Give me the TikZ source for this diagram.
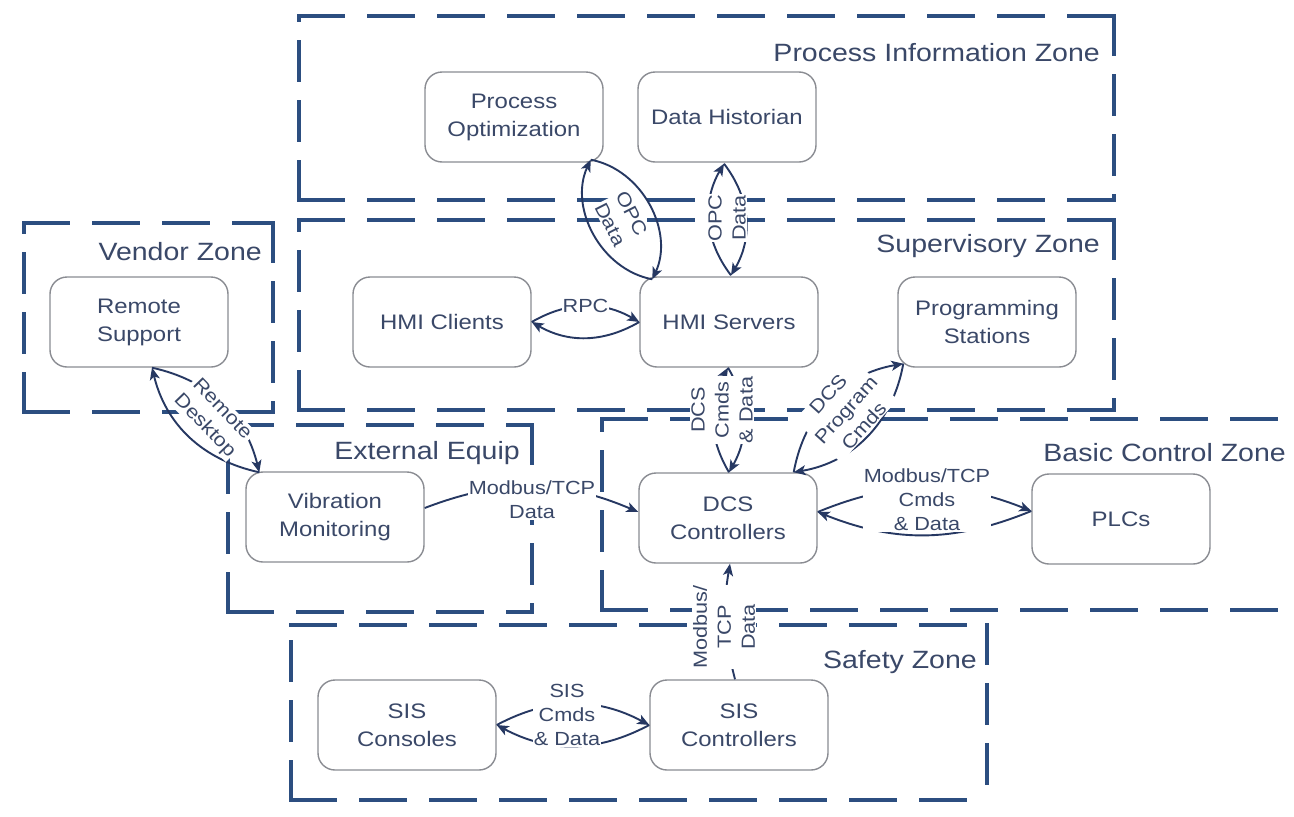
\documentclass[tikz,border=0pt]{standalone}
\usepackage{fontspec}
\setmainfont[FakeStretch=1.14]{Liberation Sans}
\usetikzlibrary{arrows.meta,calc}

\definecolor{zoneblue}{RGB}{44,78,128}
\definecolor{linknavy}{RGB}{38,56,98}
\definecolor{textblue}{RGB}{58,72,104}
\definecolor{boxgray}{RGB}{138,140,146}

% one dashed zone outline, drawn side by side
\newcommand{\zonerect}[4]{%
  \draw[zoneh] (#1,#2) -- (#3,#2);
  \draw[zoneh] (#1,#4) -- (#3,#4);
  \draw[zonev] (#1,#4) -- (#1,#2);
  \draw[zonev] (#3,#2) -- (#3,#4);}

\begin{document}
\begin{tikzpicture}[x=1pt,y=-1pt,
  zoneh/.style={draw=zoneblue,line width=4.2pt,line cap=rect,dash pattern=on 44pt off 26pt},
  zonev/.style={draw=zoneblue,line width=4.6pt,line cap=rect,dash pattern=on 38pt off 22pt},
  zonelabel/.style={anchor=east,text=textblue,font=\fontsize{25}{28}\selectfont,inner sep=0pt},
  device/.style={draw=boxgray,line width=1.4pt,rounded corners=17pt,minimum width=178pt,
    minimum height=90pt,align=center,text=textblue,fill=white,
    font=\fontsize{21}{28}\selectfont},
  link/.style={draw=linknavy,line width=1.9pt,-{Stealth[length=12pt,width=10pt,inset=3pt]}},
  tag/.style={fill=white,text=textblue,align=center,inner sep=0.8pt,
    font=\fontsize{19}{24}\selectfont},
]
\useasboundingbox (0,0) rectangle (1294,817);
\fill[white] (0,0) rectangle (1294,817);

% security zones
\zonerect{299}{16}{1114}{200}
\zonerect{299}{220}{1114}{410}
\zonerect{24}{223}{273}{412}
\zonerect{228}{425}{532}{612}
\draw[zoneh] (602,419) -- (1294,419);
\draw[zoneh] (602,610) -- (1294,610);
\draw[zonev] (602,610) -- (602,419);
\zonerect{291}{625}{987}{800}

\node[zonelabel] (lblPI)  at (1100,53)  {Process Information Zone};
\node[zonelabel] (lblSup) at (1100,246) {Supervisory Zone};
\node[zonelabel] (lblVen) at (262,252)  {Vendor Zone};
\node[zonelabel] (lblExt) at (520,453)  {External Equip};
\node[zonelabel] (lblBas) at (1286,453) {Basic Control Zone};
\node[zonelabel] (lblSaf) at (977,662)  {Safety Zone};

% systems
\node[device] (popt) at (514,117) {Process\\Optimization};
\node[device] (hist) at (727,117) {Data Historian};
\node[device] (hmic) at (442,322) {HMI Clients};
\node[device] (hmis) at (729,322) {HMI Servers};
\node[device] (prog) at (987,322) {Programming\\Stations};
\node[device] (rsup) at (139,322) {Remote\\Support};
\node[device] (vibr) at (335,517) {Vibration\\Monitoring};
\node[device] (dcs)  at (728,518) {DCS\\Controllers};
\node[device] (plc)  at (1121,519) {PLCs};
\node[device] (sisk) at (407,725) {SIS\\Consoles};
\node[device] (sisc) at (739,725) {SIS\\Controllers};

% OPC between optimization and HMI servers
\draw[link] ($(hmis.north west)+(13,3)$) to[bend left=52] ($(popt.south east)+(-13,-3)$);
\draw[link] ($(popt.south east)+(-13,-3)$) to[bend left=52] ($(hmis.north west)+(13,3)$);
% OPC between historian and HMI servers
\draw[link] ($(hmis.north)+(2,-1)$) to[bend left=34] ($(hist.south)+(-3,1)$);
\draw[link] ($(hist.south)+(-3,1)$) to[bend left=34] ($(hmis.north)+(2,-1)$);
% RPC
\draw[link] (hmic.east) to[bend left=30] node[tag] (tRPC) {RPC} (hmis.west);
\draw[link] (hmis.west) to[bend left=30] (hmic.east);
% HMI servers and DCS
\draw[link] ($(dcs.north)+(1,0)$) to[bend left=30] ($(hmis.south)+(-1,0)$);
\draw[link] ($(hmis.south)+(-1,0)$) to[bend left=30] ($(dcs.north)+(1,0)$);
% programming stations and DCS
\draw[link] ($(dcs.north east)+(-24,0)$) to[bend left=35] ($(prog.south west)+(6,-4)$);
\draw[link] ($(prog.south west)+(6,-4)$) to[bend left=35] ($(dcs.north east)+(-24,0)$);
% DCS and PLCs
\draw[link] ($(dcs.east)+(0,-6)$) to[bend left=22] ($(plc.west)+(0,-8)$);
\draw[link] ($(plc.west)+(0,-8)$) to[bend left=22] ($(dcs.east)+(0,-6)$);
% vibration monitoring to DCS
\draw[link] ($(vibr.east)+(0,-9)$) to[bend left=22] ($(dcs.west)+(0,-6)$);
% SIS controllers to DCS
\draw[link] ($(sisc.north)+(-4,0)$) to[bend left=12] ($(dcs.south)+(2,0)$);
% SIS consoles and controllers
\draw[link] (sisk.east) to[bend left=28] (sisc.west);
\draw[link] (sisc.west) to[bend left=28] (sisk.east);
% remote desktop
\draw[link] ($(vibr.north west)+(14,1)$) to[bend left=32] ($(rsup.south)+(13,0)$);
\draw[link] ($(rsup.south)+(13,0)$) to[bend left=32] ($(vibr.north west)+(14,1)$);

% connector labels
\node[tag,rotate=-63] (tOPC1) at (621,219) {OPC\\Data};
\node[tag,rotate=90]  (tOPC2) at (727,218) {OPC\\Data};
\node[tag,rotate=90]  (tDCS)  at (722,410) {DCS\\Cmds\\\& Data};
\node[tag,rotate=48]  (tPrg)  at (846,410) {DCS\\Program\\Cmds};
\node[tag]            (tMod1) at (927,500) {Modbus/TCP\\Cmds\\\& Data};
\node[tag]            (tMod2) at (532,500) {Modbus/TCP\\Data};
\node[tag,rotate=90]  (tMod3) at (724,627) {Modbus/\\TCP\\Data};
\node[tag]            (tSIS)  at (567,715) {SIS\\Cmds\\\& Data};
\node[tag,rotate=-46] (tRD)   at (213,418) {Remote\\Desktop};
\end{tikzpicture}
\end{document}
